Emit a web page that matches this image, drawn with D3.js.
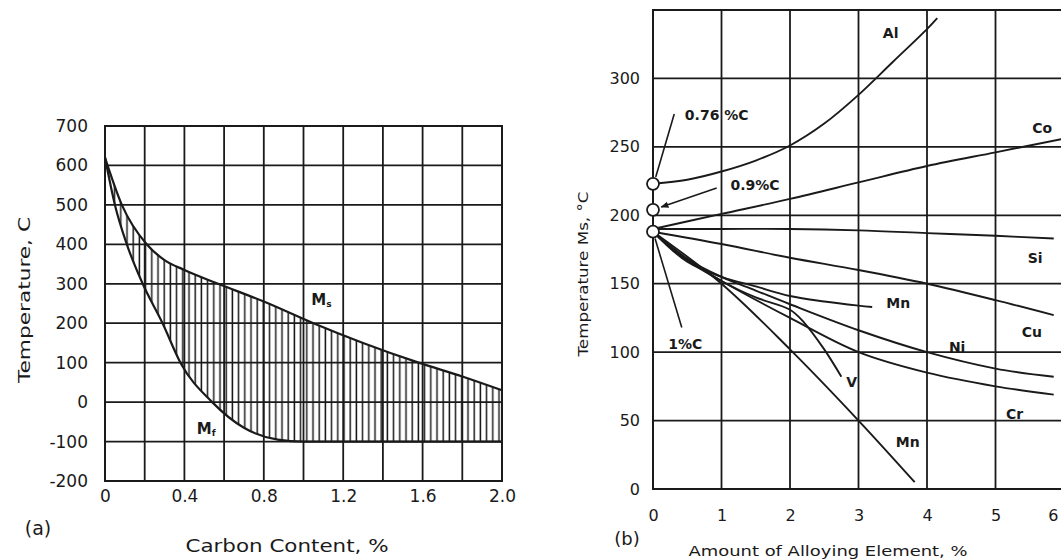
<!DOCTYPE html>
<html>
<head>
<meta charset="utf-8">
<script src="https://cdn.jsdelivr.net/npm/d3@7"></script>
<style>
  body { margin: 0; background: #fff; }
  text { font-family: "DejaVu Sans", sans-serif; fill: #1a1a1a; }
</style>
</head>
<body>
<div id="chart"></div>
<script>
(function () {

  // ---------- data, panel (a): Ms / Mf vs carbon content ----------
  const msCarbon = [0, 0.085, 0.21, 0.3, 0.4, 0.57, 0.8, 1.05, 1.3, 1.58, 1.8, 2.0]
  const msTemp   = [620, 500, 400, 360, 335, 300, 255, 200, 150, 100, 65, 30]
  const mfCarbon = [0, 0.05, 0.11, 0.19, 0.29, 0.38, 0.54, 0.7, 0.87, 1.0, 1.3, 2.0]
  const mfTemp   = [620, 500, 400, 300, 200, 100, 0, -65, -95, -100, -100, -100]
  const carbonTicks = [0, 0.4, 0.8, 1.2, 1.6, 2.0]
  const carbonTickLabels = ["0", "0.4", "0.8", "1.2", "1.6", "2.0"]
  const tempTicks = [-200, -100, 0, 100, 200, 300, 400, 500, 600, 700]

  // ---------- data, panel (b): Ms vs alloying element ----------
  const alAmt = [0, 0.5, 1, 1.5, 2, 2.5, 3, 3.5, 4, 4.15]
  const alMs  = [223, 226, 232, 240, 251, 267, 288, 312, 336, 344]
  const coAmt = [0, 1, 2, 3, 4, 5, 6]
  const coMs  = [190, 201, 212, 224, 236, 246, 256]
  const siAmt = [0, 1, 2, 3, 4, 5, 5.85]
  const siMs  = [190, 190, 190, 189, 187, 185, 183]
  const cuAmt = [0, 1, 2, 3, 4, 5, 5.85]
  const cuMs  = [188, 179, 169, 160, 150, 138, 127]
  const mn1Amt = [0, 0.5, 1, 1.5, 2, 2.5, 3, 3.2]
  const mn1Ms  = [188, 166, 155, 148, 141, 137, 134, 133]
  const niAmt = [0, 0.5, 1, 1.5, 2, 3, 4, 5, 5.85]
  const niMs  = [188, 168, 155, 145, 135, 116, 100, 88, 82]
  const crAmt = [0, 0.5, 1, 2, 3, 4, 5, 5.85]
  const crMs  = [188, 167, 152, 125, 100, 85, 75, 69]
  const vAmt = [0, 0.5, 1, 1.5, 2, 2.2, 2.5, 2.75]
  const vMs  = [188, 168, 152, 140, 131, 122, 102, 82]
  const mn2Amt = [0, 1, 2, 3, 3.82]
  const mn2Ms  = [188, 150, 102, 50, 5]
  const carbonStartMs = [223, 204, 188]
  const carbonStartLabels = ["0.76 %C", "0.9%C", "1%C"]
  const alloyTicks = [0, 1, 2, 3, 4, 5, 6]
  const msTicks = [0, 50, 100, 150, 200, 250, 300]

  const svg = d3.select("#chart").append("svg")
      .attr("width", 1061)
      .attr("height", 559)
  const defs = svg.append("defs")
  const ink = "#1a1a1a"

  // vertical hatching
  defs.append("pattern")
      .attr("id", "hatch")
      .attr("patternUnits", "userSpaceOnUse")
      .attr("width", 6.2)
      .attr("height", 10)
    .append("line")
      .attr("x1", 3).attr("x2", 3).attr("y1", 0).attr("y2", 10)
      .attr("stroke", ink)
      .attr("stroke-width", 1.5)

  defs.append("marker")
      .attr("id", "arrow")
      .attr("viewBox", "0 0 10 10")
      .attr("refX", 9).attr("refY", 5)
      .attr("markerWidth", 5).attr("markerHeight", 5)
      .attr("orient", "auto")
    .append("path")
      .attr("d", "M0,1 L10,5 L0,9 z")
      .attr("fill", ink)

  // ================= panel (a) =================
  const xA = d3.scaleLinear().domain([0, 2]).range([105, 502])
  const yA = d3.scaleLinear().domain([-200, 700]).range([481, 126])
  const gA = svg.append("g")

  gA.selectAll(".vgrid")
    .data(xA.ticks(10))
    .join("line")
      .attr("x1", d => xA(d)).attr("x2", d => xA(d))
      .attr("y1", yA(-200)).attr("y2", yA(700))
      .attr("stroke", ink).attr("stroke-width", 1.8)
  gA.selectAll(".hgrid")
    .data(tempTicks)
    .join("line")
      .attr("x1", xA(0)).attr("x2", xA(2))
      .attr("y1", d => yA(d)).attr("y2", d => yA(d))
      .attr("stroke", ink).attr("stroke-width", 1.8)

  const msPts = msCarbon.map((c, i) => [c, msTemp[i]])
  const mfPts = mfCarbon.map((c, i) => [c, mfTemp[i]])

  const aboveMf = d3.area()
      .x(d => xA(d[0])).y0(yA(700)).y1(d => yA(d[1]))
      .curve(d3.curveMonotoneX)
  const belowMs = d3.area()
      .x(d => xA(d[0])).y0(yA(-200)).y1(d => yA(d[1]))
      .curve(d3.curveMonotoneX)
  defs.append("clipPath").attr("id", "aboveMf")
    .append("path").attr("d", aboveMf(mfPts))

  gA.append("path")
      .attr("d", belowMs(msPts))
      .attr("fill", "url(#hatch)")
      .attr("clip-path", "url(#aboveMf)")

  const lineA = d3.line()
      .x(d => xA(d[0])).y(d => yA(d[1]))
      .curve(d3.curveMonotoneX)
  gA.selectAll(".curve")
    .data([msPts, mfPts])
    .join("path")
      .attr("d", lineA)
      .attr("fill", "none")
      .attr("stroke", ink)
      .attr("stroke-width", 2.2)

  gA.append("rect")
      .attr("x", xA(0)).attr("y", yA(700))
      .attr("width", xA(2) - xA(0)).attr("height", yA(-200) - yA(700))
      .attr("fill", "none").attr("stroke", ink).attr("stroke-width", 2)

  // axes (labels only)
  const axA_left = gA.append("g")
      .attr("transform", "translate(" + xA(0) + ",0)")
      .call(d3.axisLeft(yA).tickValues(tempTicks).tickSize(0).tickPadding(17)
        .tickFormat(d => String(d)))
  const axA_bottom = gA.append("g")
      .attr("transform", "translate(0," + yA(-200) + ")")
      .call(d3.axisBottom(xA).tickValues(carbonTicks).tickSize(0).tickPadding(9)
        .tickFormat((d, i) => carbonTickLabels[i]))
  ;[axA_left, axA_bottom].forEach(ax => {
    ax.select(".domain").remove()
    ax.selectAll("text").attr("font-size", 17).attr("font-family", null).attr("fill", ink)
  })

  // M labels
  const mLabel = (txt, sub, c, t) => {
    const tx = gA.append("text")
        .attr("x", xA(c)).attr("y", yA(t))
        .attr("text-anchor", "middle").attr("dominant-baseline", "central")
        .attr("font-size", 15).attr("font-weight", "bold")
    tx.append("tspan").text(txt)
    tx.append("tspan").attr("font-size", 9).attr("dy", 4).text(sub)
  }
  mLabel("M", "s", 1.09, 258)
  mLabel("M", "f", 0.51, -67)

  gA.append("text")
      .attr("transform", "translate(25,300) rotate(-90)")
      .attr("text-anchor", "middle").attr("dominant-baseline", "central")
      .attr("font-size", 15).attr("textLength", 166).attr("lengthAdjust", "spacingAndGlyphs")
      .text("Temperature,  C")
  gA.append("text")
      .attr("x", 287).attr("y", 546)
      .attr("text-anchor", "middle").attr("dominant-baseline", "central")
      .attr("font-size", 17).attr("textLength", 203).attr("lengthAdjust", "spacingAndGlyphs")
      .text("Carbon Content, %")
  gA.append("text")
      .attr("x", 38).attr("y", 528)
      .attr("text-anchor", "middle").attr("dominant-baseline", "central")
      .attr("font-size", 19)
      .text("(a)")

  // ================= panel (b) =================
  const xB = d3.scaleLinear().domain([0, 6]).range([653, 1064])
  const yB = d3.scaleLinear().domain([0, 350]).range([489, 10])
  const gB = svg.append("g")

  gB.selectAll(".vgrid")
    .data(xB.ticks(6))
    .join("line")
      .attr("x1", d => xB(d)).attr("x2", d => xB(d))
      .attr("y1", yB(0)).attr("y2", yB(350))
      .attr("stroke", ink).attr("stroke-width", 1.8)
  gB.selectAll(".hgrid")
    .data(yB.ticks(7))
    .join("line")
      .attr("x1", xB(0)).attr("x2", xB(6))
      .attr("y1", d => yB(d)).attr("y2", d => yB(d))
      .attr("stroke", ink).attr("stroke-width", 1.8)

  gB.append("rect")
      .attr("x", xB(0)).attr("y", yB(350))
      .attr("width", xB(6) - xB(0)).attr("height", yB(0) - yB(350))
      .attr("fill", "none").attr("stroke", ink).attr("stroke-width", 2)

  const series = [
    { name: "Al", amt: alAmt, ms: alMs, lx: 3.47, ly: 333 },
    { name: "Co", amt: coAmt, ms: coMs, lx: 5.68, ly: 264 },
    { name: "Si", amt: siAmt, ms: siMs, lx: 5.58, ly: 169 },
    { name: "Cu", amt: cuAmt, ms: cuMs, lx: 5.53, ly: 115 },
    { name: "Mn", amt: mn1Amt, ms: mn1Ms, lx: 3.58, ly: 136 },
    { name: "Ni", amt: niAmt, ms: niMs, lx: 4.44, ly: 104 },
    { name: "Cr", amt: crAmt, ms: crMs, lx: 5.28, ly: 55 },
    { name: "V", amt: vAmt, ms: vMs, lx: 2.9, ly: 78 },
    { name: "Mn", amt: mn2Amt, ms: mn2Ms, lx: 3.72, ly: 34 }
  ]

  const lineB = d3.line()
      .x(d => xB(d[0])).y(d => yB(d[1]))
      .curve(d3.curveCatmullRom.alpha(0.5))
  gB.selectAll(".alloy")
    .data(series)
    .join("path")
      .attr("d", d => lineB(d.amt.map((a, i) => [a, d.ms[i]])))
      .attr("fill", "none")
      .attr("stroke", ink)
      .attr("stroke-width", 1.9)

  gB.selectAll(".alloyLabel")
    .data(series)
    .join("text")
      .attr("x", d => xB(d.lx)).attr("y", d => yB(d.ly))
      .attr("text-anchor", "middle").attr("dominant-baseline", "central")
      .attr("font-size", 14).attr("font-weight", "bold")
      .text(d => d.name)

  // carbon start circles + leaders
  const leaders = [
    { from: [0.31, 274], to: [0.04, 228], arrow: false, tx: 0.93, ty: 273 },
    { from: [0.93, 220], to: [0.12, 206], arrow: true, tx: 1.49, ty: 222 },
    { from: [0.42, 118], to: [0.03, 183], arrow: false, tx: 0.47, ty: 106 }
  ]
  gB.selectAll(".leader")
    .data(leaders)
    .join("line")
      .attr("x1", d => xB(d.from[0])).attr("y1", d => yB(d.from[1]))
      .attr("x2", d => xB(d.to[0])).attr("y2", d => yB(d.to[1]))
      .attr("stroke", ink).attr("stroke-width", 1.6)
      .attr("marker-end", d => d.arrow ? "url(#arrow)" : null)

  gB.selectAll(".cstart")
    .data(carbonStartMs)
    .join("circle")
      .attr("cx", xB(0)).attr("cy", d => yB(d))
      .attr("r", 6)
      .attr("fill", "#fff").attr("stroke", ink).attr("stroke-width", 1.8)

  gB.selectAll(".cLabel")
    .data(leaders)
    .join("text")
      .attr("x", d => xB(d.tx)).attr("y", d => yB(d.ty))
      .attr("text-anchor", "middle").attr("dominant-baseline", "central")
      .attr("font-size", 14).attr("font-weight", "bold")
      .text((d, i) => carbonStartLabels[i])

  const axB_left = gB.append("g")
      .attr("transform", "translate(" + xB(0) + ",0)")
      .call(d3.axisLeft(yB).tickValues(msTicks).tickSize(0).tickPadding(13)
        .tickFormat(d => String(d)))
  const axB_bottom = gB.append("g")
      .attr("transform", "translate(0," + yB(0) + ")")
      .call(d3.axisBottom(xB).tickValues(alloyTicks).tickSize(0).tickPadding(21)
        .tickFormat(d => String(d)))
  ;[axB_left, axB_bottom].forEach(ax => {
    ax.select(".domain").remove()
    ax.selectAll("text").attr("font-size", 16).attr("font-family", null).attr("fill", ink)
  })
  // keep the last tick label inside the window edge
  axB_bottom.selectAll(".tick")
    .filter(d => d === 6)
    .select("text").attr("text-anchor", "end").attr("x", -3 + (1061 - xB(6)))

  gB.append("text")
      .attr("transform", "translate(583,274) rotate(-90)")
      .attr("text-anchor", "middle").attr("dominant-baseline", "central")
      .attr("font-size", 14).attr("textLength", 165).attr("lengthAdjust", "spacingAndGlyphs")
      .text("Temperature Ms, °C")
  gB.append("text")
      .attr("x", 828).attr("y", 551)
      .attr("text-anchor", "middle").attr("dominant-baseline", "central")
      .attr("font-size", 14).attr("textLength", 279).attr("lengthAdjust", "spacingAndGlyphs")
      .text("Amount of Alloying Element, %")
  gB.append("text")
      .attr("x", 627).attr("y", 538)
      .attr("text-anchor", "middle").attr("dominant-baseline", "central")
      .attr("font-size", 18)
      .text("(b)")

})();
</script>
</body>
</html>
